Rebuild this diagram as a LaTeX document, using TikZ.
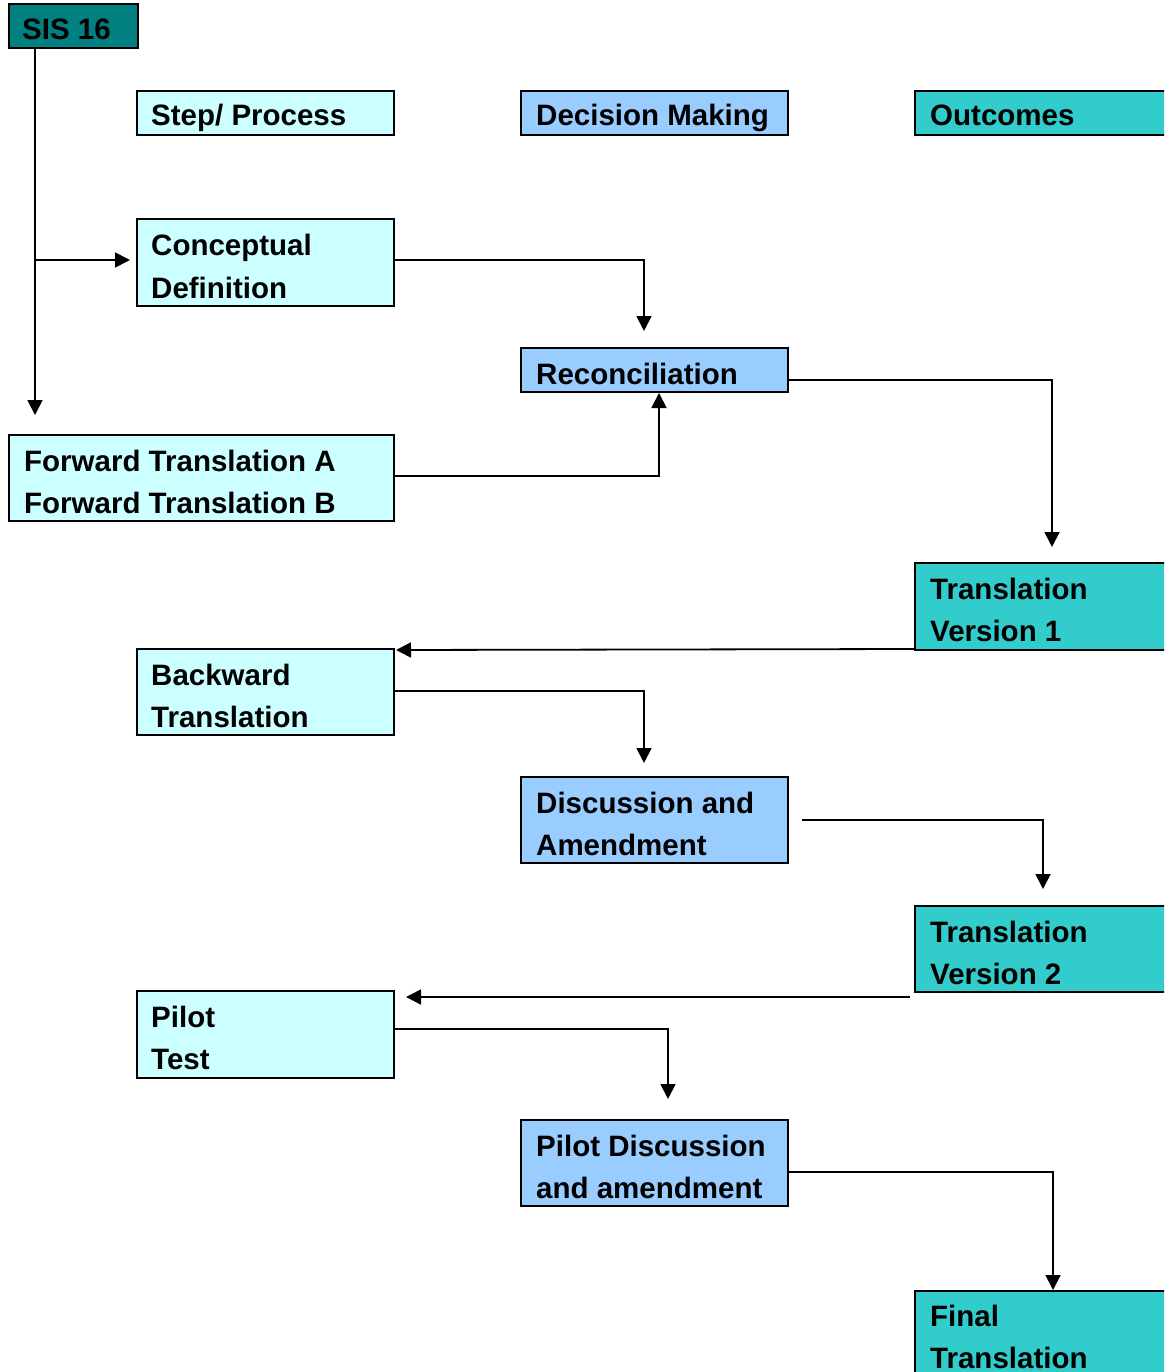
\documentclass[tikz,border=0pt]{standalone}
\usepackage{fontspec}
\setmainfont{Liberation Sans}
\usetikzlibrary{arrows.meta}
\definecolor{sisc}{HTML}{008080}
\definecolor{stepc}{HTML}{CCFFFF}
\definecolor{decc}{HTML}{99CCFF}
\definecolor{outc}{HTML}{33CCCC}
\tikzset{
  box/.style={draw=black, line width=2pt, inner sep=0pt, anchor=north west},
  stepbox/.style={box, fill=stepc},
  decbox/.style={box, fill=decc},
  outbox/.style={box, fill=outc},
  lbl/.style={anchor=base west, inner sep=0pt, font=\fontsize{29.5}{43}\selectfont\bfseries},
  conn/.style={line width=1.8pt, -{Triangle[length=15pt,width=15pt]}},
}
\begin{document}
\begin{tikzpicture}[x=1pt,y=-1pt]
\useasboundingbox (0,0) rectangle (1164,1372);
\clip (0,0) rectangle (1164,1372);
% boxes
\node[box, fill=sisc, minimum width=129pt, minimum height=44pt] (sis) at (8,3) {};
\node[stepbox, minimum width=257pt, minimum height=44pt] (hstep) at (136,90) {};
\node[decbox, minimum width=267pt, minimum height=44pt] (hdec) at (520,90) {};
\node[outbox, minimum width=300pt, minimum height=44pt] (hout) at (914,90) {};
\node[stepbox, minimum width=257pt, minimum height=87pt] (concept) at (136,218) {};
\node[decbox, minimum width=267pt, minimum height=44pt] (recon) at (520,347) {};
\node[stepbox, minimum width=385pt, minimum height=86pt] (fwd) at (8,434) {};
\node[outbox, minimum width=300pt, minimum height=87pt] (tv1) at (914,562) {};
\node[stepbox, minimum width=257pt, minimum height=86pt] (back) at (136,648) {};
\node[decbox, minimum width=267pt, minimum height=86pt] (disc) at (520,776) {};
\node[outbox, minimum width=300pt, minimum height=86pt] (tv2) at (914,905) {};
\node[stepbox, minimum width=257pt, minimum height=87pt] (pilot) at (136,990) {};
\node[decbox, minimum width=267pt, minimum height=86pt] (pdisc) at (520,1119) {};
\node[outbox, minimum width=300pt, minimum height=120pt] (final) at (914,1290) {};
% texts
\node[lbl] (tsis) at (22,40) {SIS 16};
\node[lbl] (tstep) at (151,126) {Step/ Process};
\node[lbl] (tdec) at (536,126) {Decision Making};
\node[lbl] (tout) at (930,126) {Outcomes};
\node[lbl] (tc1) at (151,255) {Conceptual};
\node[lbl] (tc2) at (151,298) {Definition};
\node[lbl] (tr) at (536,384) {Reconciliation};
\node[lbl] (tf1) at (24,471) {Forward Translation A};
\node[lbl] (tf2) at (24,513) {Forward Translation B};
\node[lbl] (tv11) at (930,599) {Translation};
\node[lbl] (tv12) at (930,641) {Version 1};
\node[lbl] (tb1) at (151,685) {Backward};
\node[lbl] (tb2) at (151,727) {Translation};
\node[lbl] (td1) at (536,813) {Discussion and};
\node[lbl] (td2) at (536,855) {Amendment};
\node[lbl] (tv21) at (930,942) {Translation};
\node[lbl] (tv22) at (930,984) {Version 2};
\node[lbl] (tp1) at (151,1027) {Pilot};
\node[lbl] (tp2) at (151,1069) {Test};
\node[lbl] (tpd1) at (536,1156) {Pilot Discussion};
\node[lbl] (tpd2) at (536,1198) {and amendment};
\node[lbl] (tfi1) at (930,1326) {Final};
\node[lbl] (tfi2) at (930,1368) {Translation};
% coordinates
\coordinate (s0) at (35,49);
\coordinate (s1) at (35,260);
\coordinate (sEnd) at (35,415);
\coordinate (cEnd) at (130,260);
\coordinate (c0) at (393,260);
\coordinate (c1) at (644,331);
\coordinate (f0) at (393,476);
\coordinate (f1) at (659,393);
\coordinate (r0) at (787,380);
\coordinate (r1) at (1052,547);
\coordinate (v0) at (914,649);
\coordinate (v1) at (396,650);
\coordinate (b0) at (393,691);
\coordinate (b1) at (644,763);
\coordinate (d0) at (802,820);
\coordinate (d1) at (1043,889);
\coordinate (w0) at (910,997);
\coordinate (w1) at (406,997);
\coordinate (p0) at (393,1029);
\coordinate (p1) at (668,1099);
\coordinate (q0) at (787,1172);
\coordinate (q1) at (1053,1290);
% connectors
\draw[conn] (s0) -- (sEnd);
\draw[conn] (s1) -- (cEnd);
\draw[conn] (c0) -| (c1);
\draw[conn] (f0) -| (f1);
\draw[conn] (r0) -| (r1);
\draw[conn] (v0) -- (v1);
\draw[conn] (b0) -| (b1);
\draw[conn] (d0) -| (d1);
\draw[conn] (w0) -- (w1);
\draw[conn] (p0) -| (p1);
\draw[conn] (q0) -| (q1);
\end{tikzpicture}
\end{document}
